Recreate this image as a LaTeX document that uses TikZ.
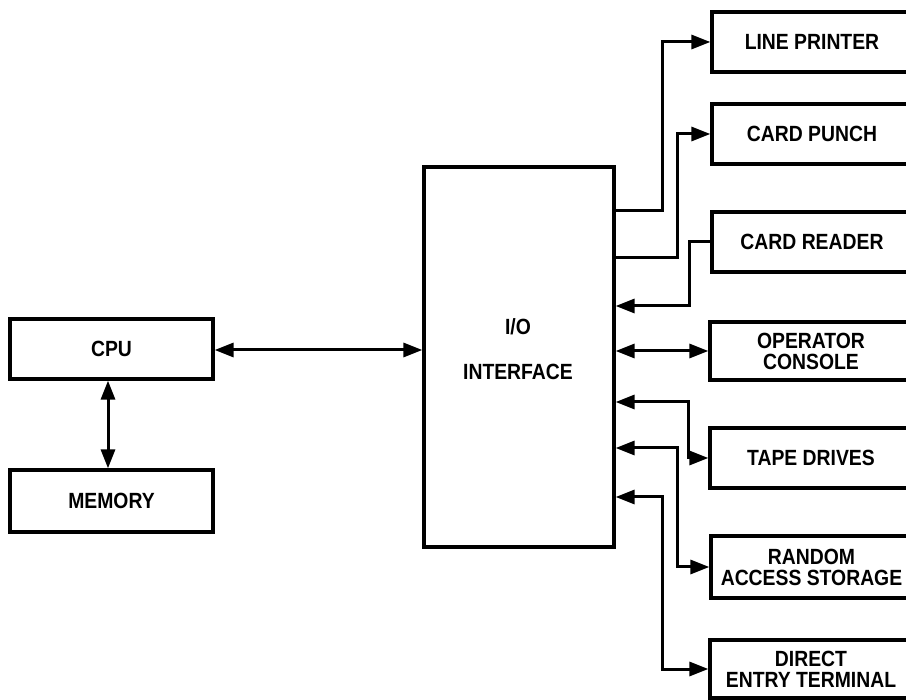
\documentclass[tikz,border=0pt]{standalone}
\usepackage{fontspec}
\setmainfont[FakeStretch=0.88]{Liberation Sans}
\usetikzlibrary{arrows.meta}
\begin{document}
\begin{tikzpicture}[x=1pt,y=-1pt,
  box/.style={draw,line width=3.2pt,inner sep=0pt,font=\bfseries\fontsize{22}{21}\selectfont,align=center},
  conn/.style={line width=3pt,-{Triangle[length=19pt,width=14pt]}},
  conn2/.style={line width=3pt,{Triangle[length=19pt,width=14pt]}-{Triangle[length=19pt,width=14pt]}}]
\path[use as bounding box,clip] (0,0) rectangle (906,700);
\fill[white] (0,0) rectangle (906,700);
% left
\node[box,minimum width=203pt,minimum height=60pt] (cpu) at (111.5,349) {CPU};
\node[box,minimum width=203pt,minimum height=62pt] (mem) at (111.5,501) {MEMORY};
\node[box,minimum width=190pt,minimum height=380pt] (io) at (519,357) {};
\node[font=\bfseries\fontsize{22}{21}\selectfont] (iot) at (518,327) {I/O};
\node[font=\bfseries\fontsize{22}{21}\selectfont] (iot2) at (518,372) {INTERFACE};
% right boxes
\node[box,minimum width=200pt,minimum height=60pt] (lp) at (812,42) {LINE PRINTER};
\node[box,minimum width=200pt,minimum height=60pt] (cp) at (812,134) {CARD PUNCH};
\node[box,minimum width=200pt,minimum height=60pt] (cr) at (812,242) {CARD READER};
\node[box,minimum width=202pt,minimum height=58pt] (oc) at (811,351) {OPERATOR\\CONSOLE};
\node[box,minimum width=202pt,minimum height=60pt] (td) at (811,458) {TAPE DRIVES};
\node[box,minimum width=201pt,minimum height=62pt] (ras) at (811.5,567) {RANDOM\\ACCESS STORAGE};
\node[box,minimum width=202pt,minimum height=58pt] (det) at (811,669) {DIRECT\\ENTRY TERMINAL};
% connectors
\draw[conn2] (cpu.east|-{0,350}) -- (io.west|-{0,350});
\draw[conn2] (cpu.south-|{108,0}) -- (mem.north-|{108,0});
\draw[conn] (io.east|-{0,211}) -- (662,211) |- (lp.west);
\draw[conn] (io.east|-{0,258}) -- (677,258) |- (cp.west);
\draw[conn] (cr.west) -| (689,306) -- (io.east|-{0,306});
\draw[conn2] (io.east|-oc.west) -- (oc.west);
\draw[conn2] (io.east|-{0,402}) -- (688,402) |- (td.west);
\draw[conn2] (io.east|-{0,448}) -- (677,448) |- (ras.west);
\draw[conn2] (io.east|-{0,497}) -- (662,497) |- (det.west);
\end{tikzpicture}
\end{document}
